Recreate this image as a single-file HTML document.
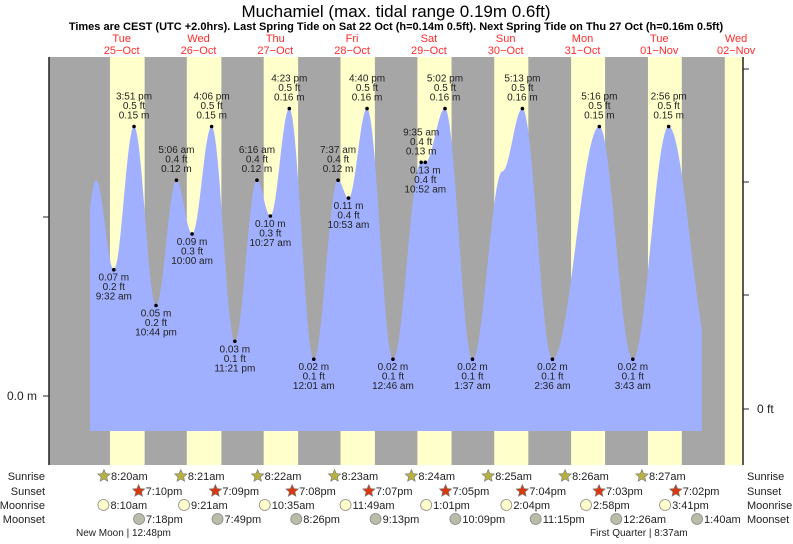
<!DOCTYPE html>
<html><head><meta charset="utf-8">
<style>
body{margin:0;background:#fff;width:793px;height:539px;overflow:hidden;font-family:"Liberation Sans",sans-serif}
svg text{font-family:"Liberation Sans",sans-serif}
</style></head>
<body>
<svg id="chart" width="793" height="539" xmlns="http://www.w3.org/2000/svg">
<text x="396" y="17" font-size="17" text-anchor="middle" fill="#000">Muchamiel (max. tidal range 0.19m 0.6ft)</text>
<text x="396" y="30" font-size="11" font-weight="bold" text-anchor="middle" fill="#000">Times are CEST (UTC +2.0hrs). Last Spring Tide on Sat 22 Oct (h=0.14m 0.5ft). Next Spring Tide on Thu 27 Oct (h=0.16m 0.5ft)</text>
<g id="bg"></g><g id="tide"></g><g id="labels"></g><g id="axes"></g><g id="astro"></g>
</svg>
<script>
const dayNames=["Tue","Wed","Thu","Fri","Sat","Sun","Mon","Tue","Wed"];
const dayDates=["25\u2212Oct","26\u2212Oct","27\u2212Oct","28\u2212Oct","29\u2212Oct","30\u2212Oct","31\u2212Oct","01\u2212Nov","02\u2212Nov"];
const sunrise=[8.33,8.35,8.37,8.38,8.40,8.42,8.43,8.45,8.47];
const sunset=[19.17,19.15,19.13,19.12,19.08,19.07,19.05,19.03,19.03];
const sunriseTxt=["8:20am","8:21am","8:22am","8:23am","8:24am","8:25am","8:26am","8:27am"];
const sunsetTxt=["7:10pm","7:09pm","7:08pm","7:07pm","7:05pm","7:04pm","7:03pm","7:02pm"];
const moonrise=[8.17,33.35,58.58,83.82,109.02,134.07,158.97,183.68];
const moonriseTxt=["8:10am","9:21am","10:35am","11:49am","1:01pm","2:04pm","2:58pm","3:41pm"];
const moonset=[19.3,43.82,68.43,93.22,118.15,143.25,168.43,193.67];
const moonsetTxt=["7:18pm","7:49pm","8:26pm","9:13pm","10:09pm","11:15pm","12:26am","1:40am"];
// tide extremes: hours from Tue 25 Oct 00:00, heights in m
const tideT=[-2.5,4.0,9.53,15.85,22.73,29.1,34.0,40.1,47.35,54.27,58.45,64.38,72.02,79.62,82.88,88.67,96.77,105.58,106.87,113.03,121.62,131.0,137.22,146.6,161.27,171.72,182.93,196.5];
const tideH=[0.04,0.12,0.07,0.15,0.05,0.12,0.09,0.15,0.03,0.12,0.10,0.16,0.02,0.12,0.11,0.16,0.02,0.13,0.13,0.16,0.02,0.125,0.16,0.02,0.15,0.02,0.15,0.02];
const tideTime=["","","9:32 am","3:51 pm","10:44 pm","5:06 am","10:00 am","4:06 pm","11:21 pm","6:16 am","10:27 am","4:23 pm","12:01 am","7:37 am","10:53 am","4:40 pm","12:46 am","9:35 am","10:52 am","5:02 pm","1:37 am","","5:13 pm","2:36 am","5:16 pm","3:43 am","2:56 pm",""];
const tideFt=["","","0.2 ft","0.5 ft","0.2 ft","0.4 ft","0.3 ft","0.5 ft","0.1 ft","0.4 ft","0.3 ft","0.5 ft","0.1 ft","0.4 ft","0.4 ft","0.5 ft","0.1 ft","0.4 ft","0.4 ft","0.5 ft","0.1 ft","","0.5 ft","0.1 ft","0.5 ft","0.1 ft","0.5 ft",""];
const tideUp=[0,0,0,1,0,1,0,1,0,1,0,1,0,1,0,1,0,1,0,1,0,0,1,0,1,0,1,0];

const X=t=>83.3+t*3.2, Y=h=>395-h*1790;
const L=49,R=743,T=57,B=465;
const NS="http://www.w3.org/2000/svg";
function mk(tag,attrs,parent,txt){const e=document.createElementNS(NS,tag);for(const k in attrs)e.setAttribute(k,attrs[k]);if(txt!==undefined)e.textContent=txt;parent.appendChild(e);return e;}
const bg=document.getElementById('bg'),tide=document.getElementById('tide'),lab=document.getElementById('labels'),ax=document.getElementById('axes'),astro=document.getElementById('astro');
let r=mk('rect',{x:L,y:T,width:R-L,height:B-T,fill:'#a6a6a6'},bg);


for(let d=0;d<dayNames.length;d++){
  const x0=Math.max(L,X(d*24+sunrise[d])),x1=Math.min(R,X(d*24+sunset[d]));
  if(x1>x0){const e=mk('rect',{x:x0,y:T,width:x1-x0,height:B-T,fill:'#ffffcc'},bg);
  
  }
  const cx=X(d*24+12);
  const t1=mk('text',{x:cx,y:42,'font-size':11,'text-anchor':'middle',fill:'#ff2a2a'},bg,dayNames[d]);
  
  
  const t2=mk('text',{x:cx,y:54,'font-size':11,'text-anchor':'middle',fill:'#ff2a2a'},bg,dayDates[d]);
  
  
}
const tStart=2.1,tEnd=193.3;
function hAt(t){for(let i=0;i<tideT.length-1;i++){if(t>=tideT[i]&&t<=tideT[i+1]){const f=(t-tideT[i])/(tideT[i+1]-tideT[i]);return tideH[i]+(tideH[i+1]-tideH[i])*(1-Math.cos(Math.PI*f))/2;}}return tideH[tideH.length-1];}
let dp=`M${X(tStart)},431`;
for(let t=tStart;t<=tEnd;t+=0.25)dp+=` L${X(t).toFixed(1)},${Y(hAt(t)).toFixed(1)}`;
dp+=` L${X(tEnd)},${Y(hAt(tEnd)).toFixed(1)} L${X(tEnd)},431 Z`;
const area=mk('path',{d:dp,fill:'#a0b0ff'},tide);


for(let i=0;i<tideT.length;i++){
  if(!tideTime[i])continue;
  const x=X(tideT[i]),y=Y(tideH[i]);
  const dot=mk('circle',{cx:x,cy:y,r:1.8,fill:'#000'},lab);
  
  
  const lines=tideUp[i]?[tideTime[i],tideFt[i],tideH[i].toFixed(2)+' m']:[tideH[i].toFixed(2)+' m',tideFt[i],tideTime[i]];
  const y0=tideUp[i]?y-27:y+11;
  lines.forEach((s,k)=>{const t=mk('text',{x:x,y:y0+k*9.5,'font-size':10,'text-anchor':'middle',fill:'#222'},lab,s);
  
  });
}
let a=mk('line',{x1:L,y1:T,x2:L,y2:B,stroke:'#222','stroke-width':1.5},ax);

a=mk('line',{x1:R,y1:T,x2:R,y2:B,stroke:'#222','stroke-width':1.5},ax);

[[396,'0.0 m'],[217,'']].forEach(([y,s])=>{mk('line',{x1:43,y1:y,x2:49,y2:y,stroke:'#222'},ax);
 if(s){const t=mk('text',{x:37,y:y+4,'font-size':12,'text-anchor':'end',fill:'#222'},ax,s);}});
[[69,''],[182,''],[295,''],[409,'0 ft']].forEach(([y,s])=>{mk('line',{x1:743,y1:y,x2:749,y2:y,stroke:'#222'},ax);
 if(s){const t=mk('text',{x:757,y:y+4,'font-size':12,fill:'#222'},ax,s);}});
const rows=[['Sunrise',480],['Sunset',495],['Moonrise',509],['Moonset',523]];
rows.forEach(([n,y])=>{
 let t=mk('text',{x:45,y:y,'font-size':11,'text-anchor':'end',fill:'#222'},astro,n);
 
 t=mk('text',{x:747,y:y,'font-size':11,fill:'#222'},astro,n);
 });
function star(cx,cy,col,stroke){let p='';for(let k=0;k<10;k++){const rr=k%2?3:6.5,an=-Math.PI/2+k*Math.PI/5;p+=(cx+rr*Math.cos(an)).toFixed(1)+','+(cy+rr*Math.sin(an)).toFixed(1)+' ';}return mk('polygon',{points:p,fill:col,stroke:stroke,'stroke-width':0.6},astro);}
function item(x,y,txt,kind){
 let ic;
 if(kind==='sr')ic=star(x-6,y-4,'#b8b040','#777');
 else if(kind==='ss')ic=star(x-6,y-4,'#d83810','#777');
 else ic=mk('circle',{cx:x-6,cy:y-4,r:5.5,fill:kind==='mr'?'#ffffcc':'#bbbbaa',stroke:'#888','stroke-width':0.8},astro);
 
 const t=mk('text',{x:x+1,y:y,'font-size':11,fill:'#222'},astro,txt);
 
}
for(let d=0;d<8;d++){
 item(X(d*24+sunrise[d]),480,sunriseTxt[d],'sr');
 item(X(d*24+sunset[d]),495,sunsetTxt[d],'ss');
 item(X(moonrise[d]),509,moonriseTxt[d],'mr');
 item(X(moonset[d]),523,moonsetTxt[d],'ms');
}
let p=mk('text',{x:76,y:536,'font-size':10,fill:'#222'},astro,'New Moon | 12:48pm');

p=mk('text',{x:590,y:536,'font-size':10,fill:'#222'},astro,'First Quarter | 8:37am');

</script>
</body></html>
